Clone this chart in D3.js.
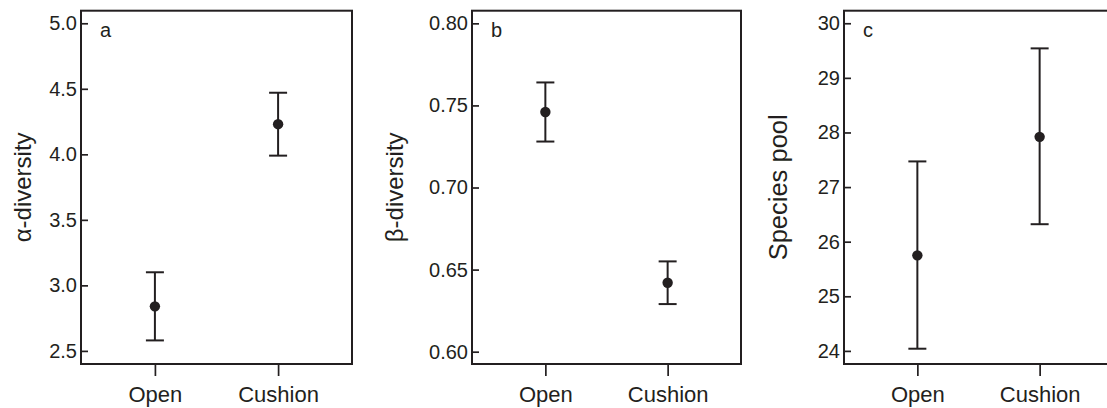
<!DOCTYPE html>
<html>
<head>
<meta charset="utf-8">
<script src="https://cdn.jsdelivr.net/npm/d3@7"></script>
<style>
  body { margin: 0; background: #fff; }
  svg { display: block; font-family: "Liberation Sans", Arial, Helvetica, sans-serif; }
</style>
</head>
<body>
<div id="chart"></div>
<script>
const width = 1107;
const height = 408;

const groups = ["Open", "Cushion"];

// a: alpha-diversity
const alphaMean = [2.84, 4.23];
const alphaLow = [2.58, 3.99];
const alphaHigh = [3.10, 4.47];
const alphaTicks = [2.5, 3.0, 3.5, 4.0, 4.5, 5.0];

// b: beta-diversity
const betaMean = [0.746, 0.642];
const betaLow = [0.728, 0.629];
const betaHigh = [0.764, 0.655];
const betaTicks = [0.60, 0.65, 0.70, 0.75, 0.80];

// c: species pool
const poolMean = [25.75, 27.92];
const poolLow = [24.04, 26.32];
const poolHigh = [27.47, 29.54];
const poolTicks = [24, 25, 26, 27, 28, 29, 30];

const ink = "#231f20";

const svg = d3
  .select("#chart")
  .append("svg")
  .attr("viewBox", [0, 0, width, height])
  .attr("width", width)
  .attr("height", height);

const plotTop = 10.7;
const plotBottom = 364;

function drawPanel(opt) {
  const g = svg.append("g").attr("transform", `translate(${opt.left}, 0)`);

  const x = d3.scaleLinear().domain([0.4, 2.6]).range([0, opt.w]);
  const y = d3.scaleLinear().domain(opt.domain).range([plotBottom, plotTop]);

  // y axis, ticks pointing inward
  g.append("g")
    .call(d3.axisLeft(y).tickValues(opt.ticks).tickSize(-7).tickPadding(4).tickFormat(d3.format(opt.fmt)))
    .call(a => a.select(".domain").remove())
    .call(a => a.selectAll("line").attr("stroke", ink).attr("stroke-width", 1.7))
    .call(a => a.selectAll("text").attr("fill", ink).attr("font-size", 20).attr("font-family", null));

  // x axis, ticks pointing outward
  g.append("g")
    .attr("transform", `translate(0, ${plotBottom})`)
    .call(d3.axisBottom(x).tickValues([1, 2]).tickSize(12).tickPadding(10).tickFormat(d => groups[d - 1]))
    .call(a => a.select(".domain").remove())
    .call(a => a.selectAll("line").attr("stroke", ink).attr("stroke-width", 1.7))
    .call(a => a.selectAll("text").attr("fill", ink).attr("font-size", 22).attr("font-family", null));

  // frame
  g.append("rect")
    .attr("x", 0)
    .attr("y", plotTop)
    .attr("width", opt.w)
    .attr("height", plotBottom - plotTop)
    .attr("fill", "none")
    .attr("stroke", ink)
    .attr("stroke-width", 2);

  const rows = groups.map((k, i) => ({ i: i + 1, m: opt.mean[i], lo: opt.low[i], hi: opt.high[i] }));

  g.selectAll(".bar")
    .data(rows)
    .join("line")
    .attr("class", "bar")
    .attr("x1", d => x(d.i))
    .attr("x2", d => x(d.i))
    .attr("y1", d => y(d.lo))
    .attr("y2", d => y(d.hi))
    .attr("stroke", ink)
    .attr("stroke-width", 2);

  ["lo", "hi"].forEach(k => {
    g.selectAll(".cap-" + k)
      .data(rows)
      .join("line")
      .attr("class", "cap-" + k)
      .attr("x1", d => x(d.i) - 9)
      .attr("x2", d => x(d.i) + 9)
      .attr("y1", d => y(d[k]))
      .attr("y2", d => y(d[k]))
      .attr("stroke", ink)
      .attr("stroke-width", 2);
  });

  g.selectAll(".dot")
    .data(rows)
    .join("circle")
    .attr("class", "dot")
    .attr("cx", d => x(d.i))
    .attr("cy", d => y(d.m))
    .attr("r", 5.2)
    .attr("fill", ink);

  // panel letter
  g.append("text")
    .attr("x", 19)
    .attr("y", 37)
    .attr("font-size", 20)
    .attr("fill", ink)
    .text(opt.letter);

  // y label
  g.append("text")
    .attr("transform", `translate(${-opt.labelOff}, ${(plotTop + plotBottom) / 2}) rotate(-90)`)
    .attr("text-anchor", "middle")
    .attr("font-size", opt.labelSize)
    .attr("fill", ink)
    .text(opt.label);
}

drawPanel({ left: 81, w: 271, domain: [2.40, 5.096], ticks: alphaTicks, fmt: ".1f",
  mean: alphaMean, low: alphaLow, high: alphaHigh, letter: "a", label: "α-diversity", labelOff: 50, labelSize: 24 });

drawPanel({ left: 472, w: 269, domain: [0.5925, 0.8077], ticks: betaTicks, fmt: ".2f",
  mean: betaMean, low: betaLow, high: betaHigh, letter: "b", label: "β-diversity", labelOff: 69, labelSize: 24 });

drawPanel({ left: 844, w: 269, domain: [23.76, 30.23], ticks: poolTicks, fmt: "d",
  mean: poolMean, low: poolLow, high: poolHigh, letter: "c", label: "Species pool", labelOff: 57, labelSize: 25.5 });
</script>
</body>
</html>
